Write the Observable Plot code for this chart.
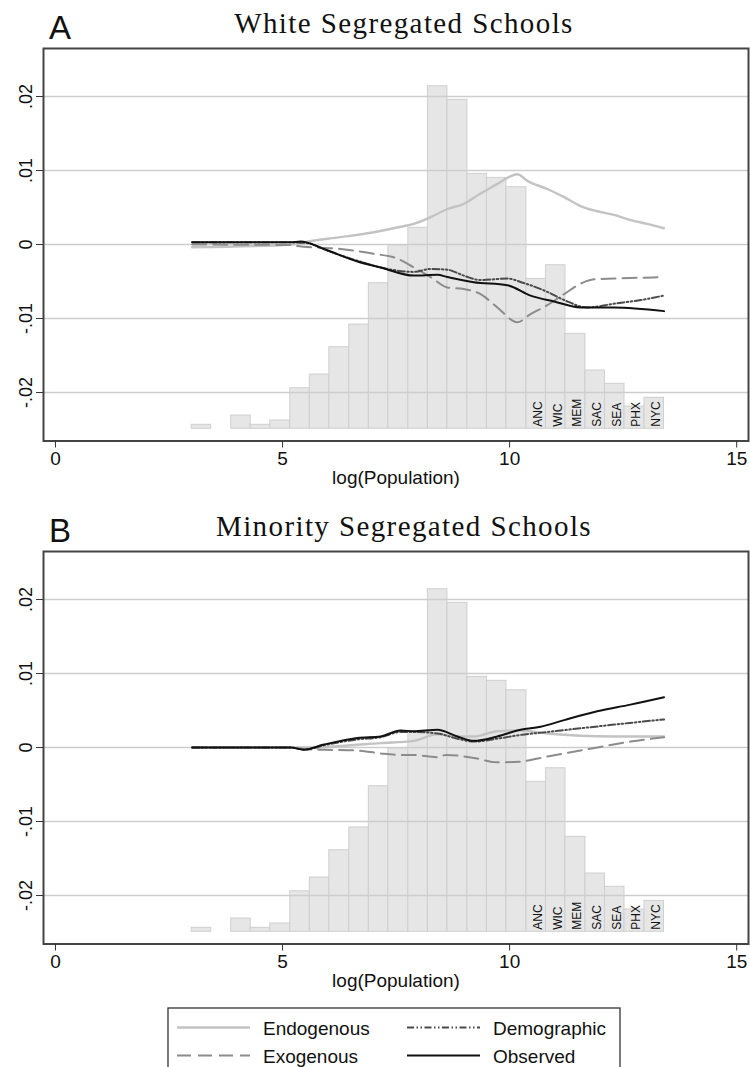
<!DOCTYPE html>
<html><head><meta charset="utf-8">
<script src="https://cdn.jsdelivr.net/npm/d3@7"></script>
<script src="https://cdn.jsdelivr.net/npm/@observablehq/plot@0.6"></script>
<style>
body{margin:0;background:#fff;}
#chart{position:relative;width:750px;height:1067px;overflow:hidden;background:#fff;}
#chart svg{display:block;}
</style></head><body><div id="chart"></div>
<script>
// ---------- data ----------
const binEdges = [3.0,3.43,3.87,4.3,4.73,5.17,5.6,6.03,6.47,6.9,7.33,7.77,8.2,8.63,9.07,9.5,9.93,10.37,10.8,11.23,11.67,12.1,12.53,12.97,13.4];
const histBase = -0.0249;
const histTops = [-0.02436,null,-0.02311,-0.02436,-0.02378,-0.01942,-0.01757,-0.01388,-0.01081,-0.00523,-0.0001,0.00226,0.02139,0.01955,0.00955,0.00901,0.00774,-0.00464,-0.0028,-0.01207,-0.01703,-0.01882,-0.02189,-0.02072];
const cityLabels = ["ANC","WIC","MEM","SAC","SEA","PHX","NYC"];
const cityFirstBin = 17;

const xTicks = [0,5,10,15];
const yTicks = [-0.02,-0.01,0,0.01,0.02];
const yTickLabels = ["-.02","-.01","0",".01",".02"];

const seriesNames = ["Endogenous","Exogenous","Demographic","Observed"];

// Panel A: White Segregated Schools
const whiteEndogenous = [[3.01,-0.00036],[5.18,-0.00004],[5.54,0.0004],[6.28,0.001],[7.01,0.00166],[7.6,0.0024],[7.89,0.0028],[8.26,0.0037],[8.63,0.0048],[8.99,0.0055],[9.36,0.0069],[9.73,0.0082],[9.98,0.0091],[10.17,0.0095],[10.39,0.0086],[10.83,0.0075],[11.2,0.0064],[11.56,0.0052],[11.93,0.0045],[12.3,0.004],[12.67,0.0033],[13.03,0.0028],[13.4,0.0022]];
const whiteExogenous = [[3.01,0],[5.18,-0.00007],[5.32,-0.0002],[6.28,-0.0006],[7.01,-0.00126],[7.53,-0.0019],[7.89,-0.0031],[8.26,-0.0044],[8.63,-0.0058],[8.99,-0.006],[9.36,-0.0067],[9.73,-0.0085],[10.17,-0.0105],[10.46,-0.0094],[10.83,-0.0082],[11.2,-0.0067],[11.56,-0.0053],[11.86,-0.0047],[12.3,-0.0046],[13.4,-0.0044]];
const whiteDemographic = [[3.01,0.0003],[5.18,0.0003],[5.54,0.0002],[6.06,-0.001],[6.65,-0.0022],[7.16,-0.0031],[7.89,-0.0037],[8.26,-0.0033],[8.63,-0.0034],[8.99,-0.0042],[9.36,-0.0048],[9.95,-0.0046],[10.31,-0.0052],[10.83,-0.0064],[11.2,-0.0075],[11.71,-0.0085],[12.3,-0.008],[12.89,-0.0075],[13.4,-0.0069]];
const whiteObserved = [[3.01,0.0003],[5.18,0.0003],[5.4,0.0004],[5.91,-0.0006],[6.65,-0.0023],[7.16,-0.0031],[7.89,-0.0042],[8.41,-0.0041],[8.63,-0.0044],[9.21,-0.0051],[9.95,-0.0055],[10.46,-0.0069],[10.98,-0.0077],[11.56,-0.0085],[12.3,-0.0085],[13.4,-0.009]];

// Panel B: Minority Segregated Schools
const minorityEndogenous = [[3.01,0],[5.18,0],[5.6,0],[6.28,0.0002],[7.16,0.0006],[7.89,0.0009],[8.41,0.0018],[8.85,0.0015],[9.21,0.0015],[9.73,0.0022],[10.24,0.0023],[10.83,0.0019],[11.56,0.0016],[12.3,0.0015],[13.4,0.0015]];
const minorityExogenous = [[3.01,0],[5.18,0],[5.47,-0.0002],[5.91,-0.0003],[6.65,-0.0004],[7.16,-0.0008],[7.6,-0.001],[7.89,-0.001],[8.41,-0.0013],[8.6,-0.001],[9.21,-0.0014],[9.73,-0.002],[10.24,-0.0019],[10.68,-0.0014],[11.2,-0.0008],[11.93,0],[12.66,0.0008],[13.4,0.0014]];
const minorityDemographic = [[3.01,0],[5.18,0],[5.47,-0.0003],[5.91,0.0003],[6.65,0.0011],[7.16,0.0014],[7.6,0.0021],[7.89,0.0021],[8.41,0.0019],[8.85,0.0012],[9.21,0.0008],[9.73,0.0012],[10.24,0.0017],[10.83,0.0021],[11.56,0.0026],[12.3,0.0031],[13.4,0.0038]];
const minorityObserved = [[3.01,0],[5.18,0],[5.47,-0.0003],[5.91,0.0004],[6.65,0.0013],[7.16,0.0015],[7.6,0.0023],[7.89,0.0022],[8.41,0.0024],[8.85,0.0015],[9.21,0.0009],[9.73,0.0015],[10.24,0.0024],[10.68,0.0028],[11.2,0.0037],[11.93,0.0049],[12.66,0.0058],[13.4,0.0068]];

// ---------- styles ----------
const lineStyle = {
  Endogenous: {stroke:"#c3c3c3", width:2.4, dash:null},
  Exogenous: {stroke:"#8c8c8c", width:2, dash:"14,7"},
  Demographic: {stroke:"#4a4a4a", width:2, dash:"7,2.5,1.5,2.5,1.5,2.5"},
  Observed: {stroke:"#111111", width:2, dash:null}
};
const sans = "Liberation Sans, Arial, Helvetica, sans-serif";
const serif = "Liberation Serif, Times New Roman, serif";

function panel(letter, title, seriesArrays) {
  const hist = histTops.map((t,i)=>({x1:binEdges[i], x2:binEdges[i+1], top:t})).filter(d=>d.top!=null);
  const cities = cityLabels.map((c,i)=>({name:c, x:(binEdges[cityFirstBin+i]+binEdges[cityFirstBin+i+1])/2}));
  const lineMarks = seriesNames.map((name,k)=>{
    const s = lineStyle[name];
    return Plot.line(seriesArrays[k], {x:d=>d[0], y:d=>d[1], stroke:s.stroke, strokeWidth:s.width,
      strokeDasharray:s.dash, curve:"monotone-x", strokeLinejoin:"round"});
  });
  const svg = Plot.plot({
    width:750, height:503,
    marginTop:48, marginBottom:62.5, marginLeft:43, marginRight:2,
    x:{domain:[-0.264,15.26]},
    y:{domain:[-0.02655,0.02649]},
    style:{fontFamily:sans, fontSize:"19px", color:"#111", background:"#fff"},
    marks:[
      Plot.rect(hist, {x1:"x1", x2:"x2", y1:histBase, y2:"top", fill:"#e6e6e6", stroke:"#cfcfcf", strokeWidth:1}),
      Plot.gridY(yTicks, {stroke:"#cdcdcd", strokeOpacity:1, strokeWidth:1.5}),
      Plot.text(cities, {x:"x", y:histBase, text:"name", rotate:-90, textAnchor:"start", lineAnchor:"middle", dx:2, dy:-2, fontSize:12, fill:"#111", fontFamily:sans}),
      ...lineMarks,
      Plot.frame({stroke:"#444", strokeWidth:2}),
      Plot.axisY(yTicks, {tickSize:7, tickPadding:5, tickRotate:-90, tickFormat:(d,i)=>yTickLabels[yTicks.indexOf(d)], fontSize:18, label:null, stroke:"#333"}),
      Plot.axisX(xTicks, {tickSize:7, tickPadding:3, fontSize:19, label:null, stroke:"#333"}),
      Plot.text(["log(Population)"], {text:d=>d, frameAnchor:"bottom", dy:43, fontSize:19, fill:"#111"})
    ]
  });
  const g = d3.select(svg);
  g.append("text").attr("x",60).attr("y",39).attr("font-family",sans).attr("font-size",33).attr("fill","#111").text(letter);
  g.append("text").attr("x",404).attr("y",33).attr("text-anchor","middle").attr("font-family",serif)
    .attr("font-size",29).attr("letter-spacing","1.4px").attr("fill","#111").text(title);
  return svg;
}

const chart = document.getElementById("chart");
chart.appendChild(panel("A","White Segregated Schools",[whiteEndogenous,whiteExogenous,whiteDemographic,whiteObserved]));
chart.appendChild(panel("B","Minority Segregated Schools",[minorityEndogenous,minorityExogenous,minorityDemographic,minorityObserved]));

// ---------- legend ----------
const leg = d3.create("svg").attr("width",750).attr("height",61);
leg.append("rect").attr("x",168).attr("y",2).attr("width",452).attr("height",80).attr("fill","#fff").attr("stroke","#333").attr("stroke-width",1.3);
const legendLayout = [["Endogenous",0,0],["Exogenous",0,1],["Demographic",1,0],["Observed",1,1]];
legendLayout.forEach(([name,col,row])=>{
  const s = lineStyle[name];
  const x0 = 177 + col*230, yc = 21.5 + row*28;
  leg.append("line").attr("x1",x0).attr("x2",x0+73).attr("y1",yc).attr("y2",yc)
    .attr("stroke",s.stroke).attr("stroke-width",s.width).attr("stroke-dasharray",s.dash);
  leg.append("text").attr("x",x0+86).attr("y",yc+7.5).attr("font-family",sans).attr("font-size",19).attr("fill","#111").text(name);
});
chart.appendChild(leg.node());
</script></body></html>
